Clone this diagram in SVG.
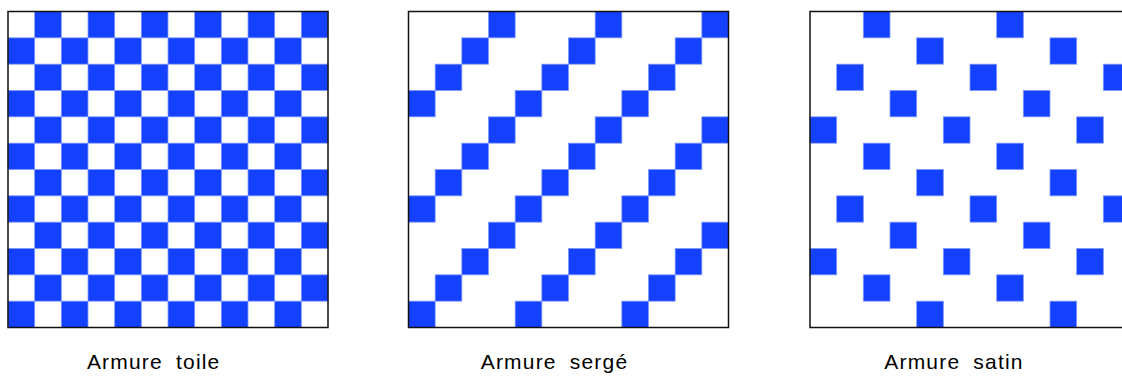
<svg xmlns="http://www.w3.org/2000/svg" width="1122" height="376" viewBox="0 0 1122 376">
<style>
.c{fill:#1440ff;stroke:#7f98ff;stroke-width:0.8}
.b{fill:none;stroke:#111;stroke-width:1.5}
.t{font-family:"Liberation Sans",Arial,sans-serif;font-size:21px;letter-spacing:1.2px;word-spacing:6px;fill:#000;text-anchor:middle}
</style>
<rect width="1122" height="376" fill="#fff"/>
<g id="toile" transform="translate(8,11.5)">
<rect x="0" y="0" width="320" height="315.7" fill="#fff"/>
<g id="toile-cells">
<rect class="c" x="26.67" y="0" width="26.67" height="26.33"/><rect class="c" x="80" y="0" width="26.67" height="26.33"/><rect class="c" x="133.33" y="0" width="26.67" height="26.33"/><rect class="c" x="186.67" y="0" width="26.67" height="26.33"/><rect class="c" x="240" y="0" width="26.67" height="26.33"/><rect class="c" x="293.33" y="0" width="26.67" height="26.33"/>
<rect class="c" x="0" y="26.33" width="26.67" height="26.33"/><rect class="c" x="53.33" y="26.33" width="26.67" height="26.33"/><rect class="c" x="106.67" y="26.33" width="26.67" height="26.33"/><rect class="c" x="160" y="26.33" width="26.67" height="26.33"/><rect class="c" x="213.33" y="26.33" width="26.67" height="26.33"/><rect class="c" x="266.67" y="26.33" width="26.67" height="26.33"/>
<rect class="c" x="26.67" y="52.67" width="26.67" height="26.33"/><rect class="c" x="80" y="52.67" width="26.67" height="26.33"/><rect class="c" x="133.33" y="52.67" width="26.67" height="26.33"/><rect class="c" x="186.67" y="52.67" width="26.67" height="26.33"/><rect class="c" x="240" y="52.67" width="26.67" height="26.33"/><rect class="c" x="293.33" y="52.67" width="26.67" height="26.33"/>
<rect class="c" x="0" y="79" width="26.67" height="26.33"/><rect class="c" x="53.33" y="79" width="26.67" height="26.33"/><rect class="c" x="106.67" y="79" width="26.67" height="26.33"/><rect class="c" x="160" y="79" width="26.67" height="26.33"/><rect class="c" x="213.33" y="79" width="26.67" height="26.33"/><rect class="c" x="266.67" y="79" width="26.67" height="26.33"/>
<rect class="c" x="26.67" y="105.33" width="26.67" height="26.33"/><rect class="c" x="80" y="105.33" width="26.67" height="26.33"/><rect class="c" x="133.33" y="105.33" width="26.67" height="26.33"/><rect class="c" x="186.67" y="105.33" width="26.67" height="26.33"/><rect class="c" x="240" y="105.33" width="26.67" height="26.33"/><rect class="c" x="293.33" y="105.33" width="26.67" height="26.33"/>
<rect class="c" x="0" y="131.67" width="26.67" height="26.33"/><rect class="c" x="53.33" y="131.67" width="26.67" height="26.33"/><rect class="c" x="106.67" y="131.67" width="26.67" height="26.33"/><rect class="c" x="160" y="131.67" width="26.67" height="26.33"/><rect class="c" x="213.33" y="131.67" width="26.67" height="26.33"/><rect class="c" x="266.67" y="131.67" width="26.67" height="26.33"/>
<rect class="c" x="26.67" y="158" width="26.67" height="26.33"/><rect class="c" x="80" y="158" width="26.67" height="26.33"/><rect class="c" x="133.33" y="158" width="26.67" height="26.33"/><rect class="c" x="186.67" y="158" width="26.67" height="26.33"/><rect class="c" x="240" y="158" width="26.67" height="26.33"/><rect class="c" x="293.33" y="158" width="26.67" height="26.33"/>
<rect class="c" x="0" y="184.33" width="26.67" height="26.33"/><rect class="c" x="53.33" y="184.33" width="26.67" height="26.33"/><rect class="c" x="106.67" y="184.33" width="26.67" height="26.33"/><rect class="c" x="160" y="184.33" width="26.67" height="26.33"/><rect class="c" x="213.33" y="184.33" width="26.67" height="26.33"/><rect class="c" x="266.67" y="184.33" width="26.67" height="26.33"/>
<rect class="c" x="26.67" y="210.67" width="26.67" height="26.33"/><rect class="c" x="80" y="210.67" width="26.67" height="26.33"/><rect class="c" x="133.33" y="210.67" width="26.67" height="26.33"/><rect class="c" x="186.67" y="210.67" width="26.67" height="26.33"/><rect class="c" x="240" y="210.67" width="26.67" height="26.33"/><rect class="c" x="293.33" y="210.67" width="26.67" height="26.33"/>
<rect class="c" x="0" y="237" width="26.67" height="26.33"/><rect class="c" x="53.33" y="237" width="26.67" height="26.33"/><rect class="c" x="106.67" y="237" width="26.67" height="26.33"/><rect class="c" x="160" y="237" width="26.67" height="26.33"/><rect class="c" x="213.33" y="237" width="26.67" height="26.33"/><rect class="c" x="266.67" y="237" width="26.67" height="26.33"/>
<rect class="c" x="26.67" y="263.33" width="26.67" height="26.33"/><rect class="c" x="80" y="263.33" width="26.67" height="26.33"/><rect class="c" x="133.33" y="263.33" width="26.67" height="26.33"/><rect class="c" x="186.67" y="263.33" width="26.67" height="26.33"/><rect class="c" x="240" y="263.33" width="26.67" height="26.33"/><rect class="c" x="293.33" y="263.33" width="26.67" height="26.33"/>
<rect class="c" x="0" y="289.67" width="26.67" height="26.33"/><rect class="c" x="53.33" y="289.67" width="26.67" height="26.33"/><rect class="c" x="106.67" y="289.67" width="26.67" height="26.33"/><rect class="c" x="160" y="289.67" width="26.67" height="26.33"/><rect class="c" x="213.33" y="289.67" width="26.67" height="26.33"/><rect class="c" x="266.67" y="289.67" width="26.67" height="26.33"/>
</g>
<rect class="b" x="0" y="0" width="320" height="316"/>
</g>
<g id="serge" transform="translate(408.5,11.5)">
<rect class="c" x="80" y="0" width="26.67" height="26.33"/><rect class="c" x="186.67" y="0" width="26.67" height="26.33"/><rect class="c" x="293.33" y="0" width="26.67" height="26.33"/>
<rect class="c" x="53.33" y="26.33" width="26.67" height="26.33"/><rect class="c" x="160" y="26.33" width="26.67" height="26.33"/><rect class="c" x="266.67" y="26.33" width="26.67" height="26.33"/>
<rect class="c" x="26.67" y="52.67" width="26.67" height="26.33"/><rect class="c" x="133.33" y="52.67" width="26.67" height="26.33"/><rect class="c" x="240" y="52.67" width="26.67" height="26.33"/>
<rect class="c" x="0" y="79" width="26.67" height="26.33"/><rect class="c" x="106.67" y="79" width="26.67" height="26.33"/><rect class="c" x="213.33" y="79" width="26.67" height="26.33"/>
<rect class="c" x="80" y="105.33" width="26.67" height="26.33"/><rect class="c" x="186.67" y="105.33" width="26.67" height="26.33"/><rect class="c" x="293.33" y="105.33" width="26.67" height="26.33"/>
<rect class="c" x="53.33" y="131.67" width="26.67" height="26.33"/><rect class="c" x="160" y="131.67" width="26.67" height="26.33"/><rect class="c" x="266.67" y="131.67" width="26.67" height="26.33"/>
<rect class="c" x="26.67" y="158" width="26.67" height="26.33"/><rect class="c" x="133.33" y="158" width="26.67" height="26.33"/><rect class="c" x="240" y="158" width="26.67" height="26.33"/>
<rect class="c" x="0" y="184.33" width="26.67" height="26.33"/><rect class="c" x="106.67" y="184.33" width="26.67" height="26.33"/><rect class="c" x="213.33" y="184.33" width="26.67" height="26.33"/>
<rect class="c" x="80" y="210.67" width="26.67" height="26.33"/><rect class="c" x="186.67" y="210.67" width="26.67" height="26.33"/><rect class="c" x="293.33" y="210.67" width="26.67" height="26.33"/>
<rect class="c" x="53.33" y="237" width="26.67" height="26.33"/><rect class="c" x="160" y="237" width="26.67" height="26.33"/><rect class="c" x="266.67" y="237" width="26.67" height="26.33"/>
<rect class="c" x="26.67" y="263.33" width="26.67" height="26.33"/><rect class="c" x="133.33" y="263.33" width="26.67" height="26.33"/><rect class="c" x="240" y="263.33" width="26.67" height="26.33"/>
<rect class="c" x="0" y="289.67" width="26.67" height="26.33"/><rect class="c" x="106.67" y="289.67" width="26.67" height="26.33"/><rect class="c" x="213.33" y="289.67" width="26.67" height="26.33"/>
<rect class="b" x="0" y="0" width="320" height="316"/>
</g>
<g id="satin" transform="translate(810,11.5)">
<rect class="c" x="53.33" y="0" width="26.67" height="26.33"/><rect class="c" x="186.67" y="0" width="26.67" height="26.33"/>
<rect class="c" x="106.67" y="26.33" width="26.67" height="26.33"/><rect class="c" x="240" y="26.33" width="26.67" height="26.33"/>
<rect class="c" x="26.67" y="52.67" width="26.67" height="26.33"/><rect class="c" x="160" y="52.67" width="26.67" height="26.33"/><rect class="c" x="293.33" y="52.67" width="26.67" height="26.33"/>
<rect class="c" x="80" y="79" width="26.67" height="26.33"/><rect class="c" x="213.33" y="79" width="26.67" height="26.33"/>
<rect class="c" x="0" y="105.33" width="26.67" height="26.33"/><rect class="c" x="133.33" y="105.33" width="26.67" height="26.33"/><rect class="c" x="266.67" y="105.33" width="26.67" height="26.33"/>
<rect class="c" x="53.33" y="131.67" width="26.67" height="26.33"/><rect class="c" x="186.67" y="131.67" width="26.67" height="26.33"/>
<rect class="c" x="106.67" y="158" width="26.67" height="26.33"/><rect class="c" x="240" y="158" width="26.67" height="26.33"/>
<rect class="c" x="26.67" y="184.33" width="26.67" height="26.33"/><rect class="c" x="160" y="184.33" width="26.67" height="26.33"/><rect class="c" x="293.33" y="184.33" width="26.67" height="26.33"/>
<rect class="c" x="80" y="210.67" width="26.67" height="26.33"/><rect class="c" x="213.33" y="210.67" width="26.67" height="26.33"/>
<rect class="c" x="0" y="237" width="26.67" height="26.33"/><rect class="c" x="133.33" y="237" width="26.67" height="26.33"/><rect class="c" x="266.67" y="237" width="26.67" height="26.33"/>
<rect class="c" x="53.33" y="263.33" width="26.67" height="26.33"/><rect class="c" x="186.67" y="263.33" width="26.67" height="26.33"/>
<rect class="c" x="106.67" y="289.67" width="26.67" height="26.33"/><rect class="c" x="240" y="289.67" width="26.67" height="26.33"/>
<rect class="b" x="0" y="0" width="320" height="316"/>
</g>
<g id="labels">
<text class="t" x="153.7" y="368.5">Armure toile</text>
<text class="t" x="554.5" y="368.5">Armure sergé</text>
<text class="t" x="954" y="368.5">Armure satin</text>
</g>
</svg>
